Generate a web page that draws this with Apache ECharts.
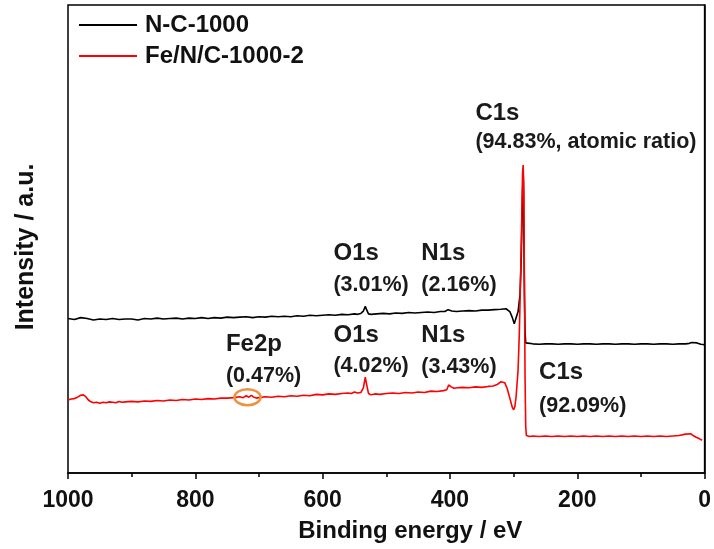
<!DOCTYPE html>
<html>
<head>
<meta charset="utf-8">
<script src="https://cdn.jsdelivr.net/npm/echarts@6/dist/echarts.min.js"></script>
<style>
  html, body { margin: 0; padding: 0; background: #fff; }
  #chart { width: 714px; height: 549px; }
</style>
</head>
<body>
<div id="chart"></div>
<script>
// XPS survey spectra: binding energy (eV) vs. intensity (a.u.)
const seriesNames = ['N-C-1000', 'Fe/N/C-1000-2'];

// N-C-1000 survey
const ncEnergy = [1000,990,980,970,960,950,940,930,920,910,900,890,880,870,860,850,840,830,820,810,800,790,780,770,760,750,740,730,720,710,700,690,680,670,660,650,640,630,620,610,600,590,580,570,560,550,545,540,536,533,531,528,524,515,505,495,485,475,465,455,445,435,425,415,408,403,400,397,390,380,370,360,350,340,330,320,312,306,302,299,296,293,290,288,286,285,284.5,284,283,282,281,280,270,260,250,240,230,220,210,200,190,180,170,160,150,140,130,120,110,100,90,80,70,60,50,40,30,24,20,17,12,6,0];
const ncIntensity = [33.0,32.8,33.2,33.0,32.7,32.9,32.8,33.0,32.8,32.9,32.9,32.7,33.0,32.9,33.1,32.9,33.0,33.1,32.9,33.1,33.0,33.2,33.0,33.2,33.1,33.3,33.2,33.3,33.4,33.2,33.4,33.3,33.5,33.4,33.5,33.4,33.6,33.5,33.7,33.6,33.7,33.8,33.7,33.9,33.8,34.0,33.9,34.1,34.6,35.6,34.9,34.0,33.9,34.0,34.1,34.0,34.2,34.1,34.3,34.2,34.3,34.4,34.3,34.5,34.5,34.9,35.0,34.6,34.5,34.6,34.7,34.6,34.8,34.8,34.9,35.0,35.1,34.5,33.2,31.9,32.3,34.5,38.0,46.0,60.0,64.3,62.0,52.0,38.0,30.0,27.8,27.6,27.6,27.5,27.6,27.6,27.5,27.6,27.6,27.5,27.6,27.6,27.5,27.6,27.6,27.5,27.6,27.6,27.5,27.6,27.6,27.5,27.6,27.6,27.5,27.6,27.6,27.7,27.9,28.0,27.8,27.5,27.4];

// Fe/N/C-1000-2 survey
const fencEnergy = [1000,995,990,985,980,976,972,968,964,960,955,950,945,940,935,930,925,920,915,910,900,890,880,870,860,850,840,830,820,810,800,790,780,770,760,750,740,730,725,720,716,712,708,704,700,690,680,670,660,650,640,630,620,610,600,590,580,570,560,555,550,545,540,536,533,531,528,524,518,510,500,490,480,470,460,450,440,430,420,410,405,402,400,398,394,388,380,370,360,350,340,332,326,320,317,314,310,306,302,300,298,296,293,291,289,287,286,285,284,283,282,281,280,275,270,260,250,240,230,220,210,200,190,180,170,160,150,140,130,120,110,100,90,80,70,60,50,40,30,22,18,14,8,4,0];
const fencIntensity = [15.6,15.8,15.9,16.2,16.6,16.7,16.3,15.6,15.2,15.0,15.1,14.9,15.1,15.0,15.2,15.1,15.0,15.3,15.1,15.2,15.3,15.2,15.4,15.3,15.5,15.4,15.6,15.5,15.7,15.6,15.8,15.7,15.9,15.8,16.0,16.0,16.1,16.3,16.1,16.5,16.2,16.6,16.2,16.0,16.1,16.3,16.2,16.4,16.3,16.5,16.4,16.6,16.5,16.8,16.7,16.9,16.8,17.0,17.1,17.0,17.3,17.1,17.2,18.2,20.5,19.0,17.0,16.7,16.9,16.8,17.0,17.1,17.0,17.2,17.1,17.3,17.2,17.5,17.4,17.6,17.8,18.8,19.0,18.4,18.1,18.2,18.3,18.2,18.4,18.3,18.5,18.6,18.9,19.5,19.8,19.3,18.0,16.0,14.0,13.5,14.2,16.5,22.0,30.0,42.0,56.0,64.0,65.8,60.0,40.0,20.0,10.0,8.0,7.8,7.9,7.8,7.9,7.8,7.9,7.8,7.9,7.8,7.9,7.8,7.9,7.8,7.9,7.8,7.9,7.8,7.9,7.8,7.9,7.8,7.9,7.8,7.9,8.0,8.3,8.4,8.0,7.7,7.3,7.0];

// Axis tick values
const energyTicks = [1000, 800, 600, 400, 200, 0];

// Peak annotations: [binding energy, intensity] anchor of the text's left-middle
const peakLabels = [
  { text: 'C1s', at: [360, 76.9], big: true },
  { text: '(94.83%, atomic ratio)', at: [360, 70.7] },
  { text: 'O1s', at: [583, 47.0], big: true },
  { text: '(3.01%)', at: [583, 40.2] },
  { text: 'N1s', at: [445, 47.0], big: true },
  { text: '(2.16%)', at: [445, 40.2] },
  { text: 'Fe2p', at: [752, 27.4], big: true },
  { text: '(0.47%)', at: [752, 20.7] },
  { text: 'O1s', at: [583, 29.5], big: true },
  { text: '(4.02%)', at: [583, 22.9] },
  { text: 'N1s', at: [445, 29.5], big: true },
  { text: '(3.43%)', at: [445, 22.6] },
  { text: 'C1s', at: [260, 21.4], big: true },
  { text: '(92.09%)', at: [260, 14.3] }
];
// Fe2p region marker
const fe2pMark = [718, 16.2];

const FONT = '"Liberation Sans", Arial, sans-serif';
const pairs = (xs, ys) => xs.map((x, i) => [x, ys[i]]);

const chart = echarts.init(document.getElementById('chart'), null, { renderer: 'canvas' });

chart.setOption({
  animation: false,
  backgroundColor: '#fff',
  grid: {
    left: 68, right: 8, top: 5, bottom: 76,
    show: true, borderColor: '#000', borderWidth: 1.5
  },
  legend: {
    orient: 'vertical',
    left: 79, top: 13, padding: 0,
    itemWidth: 58, itemHeight: 2, itemGap: 7,
    icon: 'rect',
    data: seriesNames,
    textStyle: { fontFamily: FONT, fontWeight: 'bold', fontSize: 24, color: '#111', lineHeight: 24, padding: [0, 0, 0, 3] }
  },
  xAxis: {
    type: 'value', inverse: true, min: 0, max: 1000, interval: 200,
    name: 'Binding energy / eV', nameLocation: 'middle', nameGap: 46,
    nameTextStyle: { fontFamily: FONT, fontWeight: 'bold', fontSize: 24, color: '#111', padding: [0, 0, 0, 48] },
    axisLine: { show: true, onZero: false, lineStyle: { color: '#000', width: 1.5 } },
    axisTick: { show: true, inside: false, length: 6, lineStyle: { color: '#000', width: 1.5 } },
    minorTick: { show: true, splitNumber: 2, length: 4, lineStyle: { color: '#000', width: 1.5 } },
    splitLine: { show: false },
    axisLabel: {
      fontFamily: FONT, fontWeight: 'bold', fontSize: 23, color: '#111', margin: 16,
      formatter: v => energyTicks.includes(v) ? String(v) : ''
    }
  },
  yAxis: {
    type: 'value', min: 0, max: 100,
    name: 'Intensity / a.u.', nameLocation: 'middle', nameGap: 29, nameRotate: 90,
    nameTextStyle: { fontFamily: FONT, fontWeight: 'bold', fontSize: 25, color: '#111', padding: [0, 16, 0, 0] },
    axisLine: { show: true, lineStyle: { color: '#000', width: 1.5 } },
    axisTick: { show: false },
    axisLabel: { show: false },
    splitLine: { show: false }
  },
  series: [
    {
      name: seriesNames[0], type: 'line', data: pairs(ncEnergy, ncIntensity),
      showSymbol: false, symbol: 'none', smooth: false,
      lineStyle: { color: '#000', width: 1.6 }, itemStyle: { color: '#000' }, z: 3
    },
    {
      name: seriesNames[1], type: 'line', data: pairs(fencEnergy, fencIntensity),
      showSymbol: false, symbol: 'none', smooth: false,
      lineStyle: { color: '#ff0000', width: 1.6 }, itemStyle: { color: '#ff0000' }, z: 4
    }
  ]
});

// Peak labels and the Fe2p marker are placed through the axis scales
function placeAnnotations() {
  const toPx = p => chart.convertToPixel({ xAxisIndex: 0, yAxisIndex: 0 }, p);
  const elements = peakLabels.map(l => {
    const [x, y] = toPx(l.at);
    return {
      type: 'text', x, y, z: 10,
      style: {
        text: l.text, fill: '#1a1a1a', fontFamily: FONT, fontWeight: 'bold',
        fontSize: l.big ? 24 : 21.5, verticalAlign: 'middle', align: 'left'
      }
    };
  });
  const [ex, ey] = toPx(fe2pMark);
  elements.push({
    type: 'ellipse', z: 10,
    shape: { cx: ex, cy: ey, rx: 13, ry: 8 },
    style: { fill: 'none', stroke: '#f0903c', lineWidth: 2.5 }
  });
  chart.setOption({ graphic: elements });
}
placeAnnotations();
</script>
</body>
</html>
